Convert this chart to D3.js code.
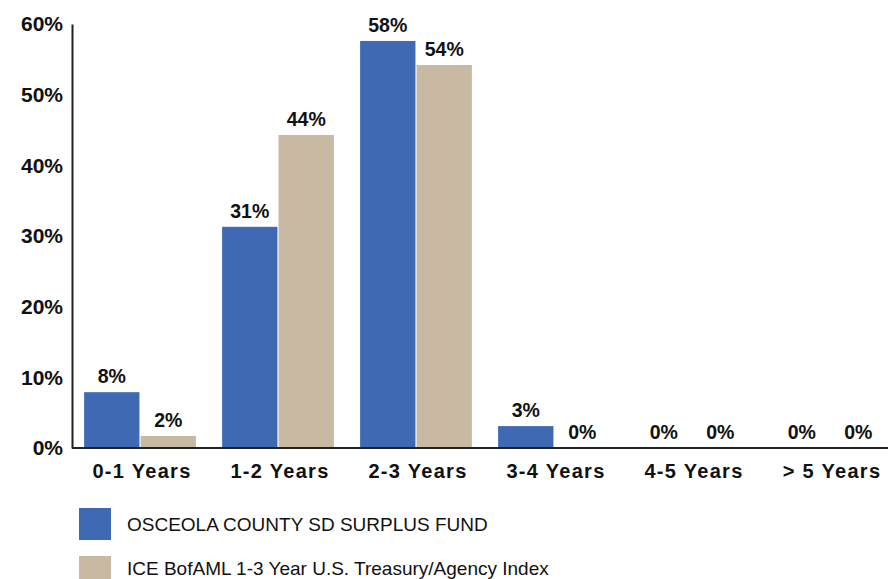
<!DOCTYPE html>
<html>
<head>
<meta charset="utf-8">
<script src="https://cdn.jsdelivr.net/npm/d3@7"></script>
<style>
  html, body { margin: 0; padding: 0; background: #fff; }
  svg { display: block; font-family: "Liberation Sans", Arial, sans-serif; }
</style>
</head>
<body>
<div id="chart"></div>
<script>
const categories = ['0-1 Years', '1-2 Years', '2-3 Years', '3-4 Years', '4-5 Years', '> 5 Years'];
const seriesNames = ['OSCEOLA COUNTY SD SURPLUS FUND', 'ICE BofAML 1-3 Year U.S. Treasury/Agency Index'];
const fundValues = [7.9, 31.3, 57.6, 3.1, 0, 0];
const indexValues = [1.7, 44.3, 54.2, 0, 0, 0];
const fundLabels = ['8%', '31%', '58%', '3%', '0%', '0%'];
const indexLabels = ['2%', '44%', '54%', '0%', '0%', '0%'];
const yTicks = [0, 10, 20, 30, 40, 50, 60];
const colors = ['#3F6AB3', '#C8B9A3'];

const width = 888, height = 579;
const margin = { top: 24, left: 72, bottom: 131 };
const baseY = height - margin.bottom;

const svg = d3.select("#chart")
    .append("svg")
    .attr("width", width)
    .attr("height", height);

const x0 = d3.scaleBand()
    .domain(categories)
    .range([71, 899])
    .paddingInner(0.19)
    .paddingOuter(0.095);

const x1 = d3.scaleBand()
    .domain([0, 1])
    .range([0, x0.bandwidth()])
    .paddingInner(0.02);

const y = d3.scaleLinear()
    .domain([0, 60])
    .range([baseY, margin.top]);

const rows = categories.map((c, i) => ({
    cat: c,
    vals: [
        { s: 0, v: fundValues[i], label: fundLabels[i] },
        { s: 1, v: indexValues[i], label: indexLabels[i] }
    ]
}));

const groups = svg.selectAll(".grp")
    .data(rows)
    .enter()
    .append("g")
    .attr("class", "grp")
    .attr("transform", d => `translate(${x0(d.cat)},0)`);

groups.selectAll("rect")
    .data(d => d.vals)
    .enter()
    .append("rect")
    .attr("x", d => x1(d.s))
    .attr("width", x1.bandwidth())
    .attr("y", d => y(d.v))
    .attr("height", d => baseY - y(d.v))
    .attr("fill", d => colors[d.s]);

groups.selectAll("text")
    .data(d => d.vals)
    .enter()
    .append("text")
    .attr("x", d => x1(d.s) + x1.bandwidth() / 2)
    .attr("y", d => y(d.v) - 9)
    .attr("text-anchor", "middle")
    .attr("font-size", 19.5)
    .attr("font-weight", "bold")
    .attr("fill", "#111")
    .text(d => d.label);

// y axis
const yAxis = svg.append("g")
    .attr("transform", `translate(${margin.left},0)`)
    .call(d3.axisLeft(y).tickValues(yTicks).tickSize(0).tickPadding(9).tickFormat(d => d + '%'));
yAxis.select(".domain").attr("stroke", "#222").attr("stroke-width", 2);
yAxis.selectAll("text")
    .attr("font-size", 21)
    .attr("font-weight", "bold")
    .attr("fill", "#111")
    .attr("font-family", "Liberation Sans, Arial, sans-serif");

// x axis
const xAxis = svg.append("g")
    .attr("transform", `translate(0,${baseY})`)
    .call(d3.axisBottom(x0).tickSize(0).tickPadding(16));
xAxis.select(".domain").attr("stroke", "#222").attr("stroke-width", 2)
    .attr("d", `M${margin.left},0H${width}`);
xAxis.selectAll("text")
    .attr("font-size", 20)
    .attr("font-weight", "bold")
    .attr("fill", "#111")
    .attr("letter-spacing", "1.3px")
    .attr("dx", "2px")
    .attr("font-family", "Liberation Sans, Arial, sans-serif");

// legend
const legend = svg.selectAll(".leg")
    .data(seriesNames)
    .enter()
    .append("g")
    .attr("class", "leg")
    .attr("transform", (d, i) => `translate(79,${508 + i * 48})`);

legend.append("rect")
    .attr("width", 32)
    .attr("height", 32)
    .attr("fill", (d, i) => colors[i]);

legend.append("text")
    .attr("x", 48)
    .attr("y", (d, i) => 23 - i * 4)
    .attr("font-size", 19)
    .attr("fill", "#111")
    .text(d => d);
</script>
</body>
</html>
